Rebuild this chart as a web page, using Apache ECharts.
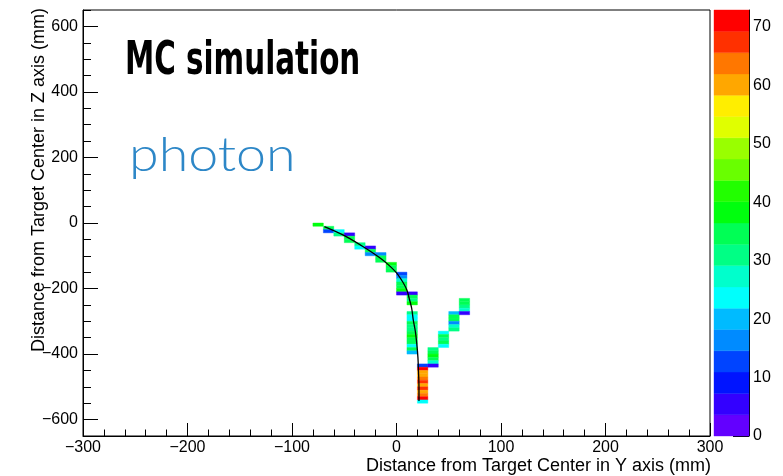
<!DOCTYPE html>
<html>
<head>
<meta charset="utf-8">
<script src="https://cdn.jsdelivr.net/npm/echarts@6/dist/echarts.min.js"></script>
<style>
  html, body { margin: 0; padding: 0; background: #fff; }
  #chart { width: 783px; height: 476px; }
</style>
</head>
<body>
<div id="chart"></div>
<script>
// 2D hit histogram, bins of 10 mm x 10 mm.
// Each column: lower Y edge, top Z edge, then counts from the top bin downward (null = empty bin).
const binWidth = 10;
const binHeight = 10;
const columnY = [-80, -70, -60, -50, -40, -30, -20, -10, 0, 10, 20, 30, 40, 50, 60];
const columnTopZ = [0, -10, -20, -30, -60, -70, -90, -120, -150, -210, -430, -380, -330, -270, -230];
const columnCounts = [
  [39],
  [35, 12],
  [24, 31],
  [5, 35, 33],
  [30, 24],
  [5, 35, 16],
  [17, 35, 33],
  [38, 34, 36],
  [12, 16, 28, 34, 36, 38, 5],
  [5, 36, 31, 39, null, null, 31, 25, 24, 36, 30, 31, 35, 37, 36, 34, 25, 33, 19],
  [12, 70, 61, 60, 62, 66, 60, 68, 61, 63, 71, 24],
  [30, 35, 37, 34, 29, 6],
  [24, 34, 32, 35, 25],
  [19, 35, 34, 16, 29, 31],
  [36, 35, 30, 28, 5]
];

// Reconstructed track (mm)
const trackY = [-69, -49, -28, -17, -9, 0, 6, 10, 12, 14.5, 16, 18, 19.3, 20.5, 21, 21.5, 21.5];
const trackZ = [-11, -40, -80, -104, -124, -152, -180, -205, -228, -260, -295, -330, -365, -410, -450, -500, -543];

// Colour scale: 20 contour levels, violet -> red
const zMax = 72.9;
const paletteColors = [
  '#6300ff', '#3300ff', '#0014ff', '#0044ff', '#008bff',
  '#00bbff', '#00fffc', '#00ffcc', '#00ff85', '#00ff55',
  '#00ff0e', '#22ff00', '#69ff00', '#99ff00', '#e0ff00',
  '#ffee00', '#ffa700', '#ff7700', '#ff3000', '#ff0000'
];
const zTicks = [0, 10, 20, 30, 40, 50, 60, 70];

// Axis ranges and ticks
const yRange = [-300, 300];
const zRange = [-650, 650];
const zMajorTicks = [-600, -400, -200, 0, 200, 400, 600];

const cells = [];
columnY.forEach((y0, i) => {
  columnCounts[i].forEach((v, j) => {
    if (v !== null) cells.push([y0, columnTopZ[i] - j * binHeight, v]);
  });
});
const step = zMax / paletteColors.length;
const colourBands = paletteColors.map((c, k) => [k * step, (k + 1) * step]);
const pieces = paletteColors.map((c, k) => ({ gte: k * step, lt: (k + 1) * step + (k === paletteColors.length - 1 ? 1 : 0), color: c }));
const track = trackY.map((y, i) => [y, trackZ[i]]);

const fmt = v => (v < 0 ? '\u2212' + Math.abs(v) : String(v));
const labelFont = { fontFamily: '"Liberation Sans", Arial, sans-serif', fontSize: 16, color: '#000' };

const chart = echarts.init(document.getElementById('chart'), null, { renderer: 'canvas' });
chart.setOption({
  animation: false,
  backgroundColor: '#fff',
  grid: [
    { left: 83, top: 10, width: 627, height: 426, show: true, borderColor: '#000', borderWidth: 1, backgroundColor: 'transparent' },
    { left: 714, top: 10, width: 35, height: 426 }
  ],
  visualMap: {
    type: 'piecewise', show: false, seriesIndex: 0, dimension: 2, pieces: pieces
  },
  xAxis: [
    {
      gridIndex: 0, type: 'value', min: yRange[0], max: yRange[1], interval: 100,
      axisLine: { show: true, onZero: false, lineStyle: { color: '#000', width: 1 } },
      axisTick: { show: true, inside: true, length: 13, lineStyle: { color: '#000' } },
      minorTick: { show: true, splitNumber: 5, length: 6.5, lineStyle: { color: '#000' } },
      axisLabel: Object.assign({ margin: 4, formatter: fmt }, labelFont),
      splitLine: { show: false }
    },
    { gridIndex: 1, type: 'value', min: 0, max: 1, show: false }
  ],
  yAxis: [
    {
      gridIndex: 0, type: 'value', min: zRange[0], max: zRange[1], interval: 50, position: 'left',
      axisLine: { show: true, onZero: false, lineStyle: { color: '#000', width: 1 } },
      axisTick: { show: true, inside: true, length: 8, lineStyle: { color: '#000' } },
      axisLabel: Object.assign({ margin: 5, formatter: v => (v % 200 === 0 ? fmt(v) : '') }, labelFont),
      splitLine: { show: false }
    },
    {
      gridIndex: 0, type: 'value', min: zRange[0], max: zRange[1], position: 'left',
      axisLine: { show: false, onZero: false },
      axisTick: { show: true, inside: true, length: 15, customValues: zMajorTicks, lineStyle: { color: '#000' } },
      axisLabel: { show: false },
      splitLine: { show: false }
    },
    {
      gridIndex: 1, type: 'value', min: 0, max: zMax, position: 'right',
      axisLine: { show: true, onZero: false, lineStyle: { color: '#000', width: 1 } },
      axisTick: { show: true, inside: true, length: 16, customValues: zTicks, lineStyle: { color: '#000' } },
      axisLabel: Object.assign({ margin: 4, customValues: zTicks, formatter: v => String(v) }, labelFont),
      splitLine: { show: false }
    }
  ],
  series: [
    {
      type: 'custom', xAxisIndex: 0, yAxisIndex: 0, data: cells, clip: true,
      encode: { x: 0, y: 1 },
      renderItem: function (params, api) {
        const p0 = api.coord([api.value(0), api.value(1)]);
        const p1 = api.coord([api.value(0) + binWidth, api.value(1) - binHeight]);
        const fill = api.visual('color');
        return {
          type: 'rect',
          shape: { x: p0[0], y: p0[1], width: p1[0] - p0[0], height: p1[1] - p0[1] },
          style: { fill: fill, stroke: fill, lineWidth: 0.4 }
        };
      }
    },
    {
      type: 'line', xAxisIndex: 0, yAxisIndex: 0, data: track,
      smooth: 0.35, showSymbol: false, symbol: 'none',
      lineStyle: { color: '#000', width: 1.3 }, z: 5
    },
    {
      type: 'custom', xAxisIndex: 1, yAxisIndex: 2, data: colourBands,
      renderItem: function (params, api) {
        const p0 = api.coord([0, api.value(1)]);
        const p1 = api.coord([1, api.value(0)]);
        const c = paletteColors[params.dataIndex];
        return {
          type: 'rect',
          shape: { x: p0[0], y: p0[1], width: p1[0] - p0[0], height: p1[1] - p0[1] },
          style: { fill: c, stroke: c, lineWidth: 0.4 }
        };
      }
    }
  ],
  graphic: [
    {
      type: 'text', x: 125, y: 62, scaleX: 0.695, z: 10,
      style: { text: 'MC simulation', font: 'bold 47px "DejaVu Sans Condensed", "DejaVu Sans", sans-serif', fill: '#000', align: 'left', verticalAlign: 'middle' }
    },
    {
      type: 'text', x: 129, y: 156, scaleX: 1.12, z: 10,
      style: { text: 'photon', font: '300 48px Lato, "Open Sans", sans-serif', fill: '#2d87c7', align: 'left', verticalAlign: 'middle' }
    },
    {
      type: 'text', x: 711, y: 466, z: 10,
      style: { text: 'Distance from Target Center in Y axis (mm)', font: '18px "Liberation Sans", Arial, sans-serif', fill: '#000', align: 'right', verticalAlign: 'middle' }
    },
    {
      type: 'text', x: 39, y: 8, rotation: Math.PI / 2, z: 10,
      style: { text: 'Distance from Target Center in Z axis (mm)', font: '18px "Liberation Sans", Arial, sans-serif', fill: '#000', align: 'right', verticalAlign: 'middle' }
    }
  ]
});
</script>
</body>
</html>
